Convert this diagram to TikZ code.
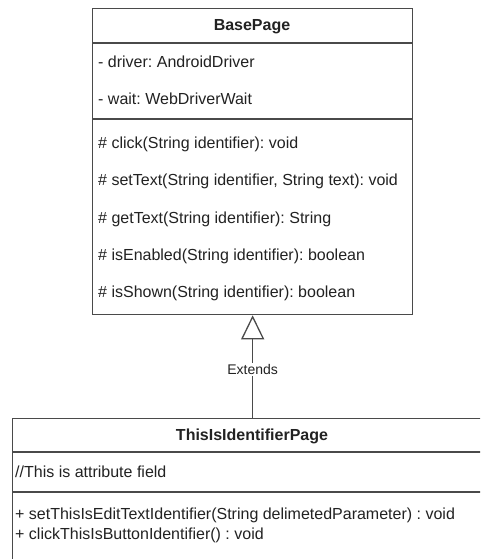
\documentclass[tikz,border=0pt]{standalone}
\usepackage{fontspec}
\setmainfont{Liberation Sans}
\usetikzlibrary{arrows.meta}
\definecolor{linegray}{HTML}{4A4A4A}
\definecolor{ink}{HTML}{222222}
\tikzset{
  classbox/.style={draw=linegray, line width=1.3pt, fill=white, anchor=north west, inner sep=0pt},
  member/.style={anchor=west, inner sep=0pt, text=ink, font=\fontsize{16}{19}\selectfont\frenchspacing},
  title/.style={anchor=center, inner sep=0pt, text=ink, font=\fontsize{16}{19}\selectfont\bfseries},
  divider/.style={draw=linegray, line width=1.3pt},
  inherit/.style={draw=linegray, line width=1.3pt, -{Triangle[open, length=24pt, width=23pt, line width=1.3pt]}},
  edgelabel/.style={fill=white, text=ink, inner sep=1.5pt, font=\fontsize{14}{16}\selectfont}
}
\begin{document}
\begin{tikzpicture}[x=1pt, y=-1pt]
\useasboundingbox (0,0) rectangle (480,559);
\clip (0,0) rectangle (480,559);
\fill[white] (0,0) rectangle (480,559);

% BasePage class
\node[classbox, minimum width=320pt, minimum height=306pt] (base) at (92,8) {};
\coordinate (bh) at (92,43);
\coordinate (ba) at (92,119);
\draw[divider] (bh) -- ++(320,0);
\draw[divider] (ba) -- ++(320,0);
\node[title] (basetitle) at (252,27) {BasePage};
\node[member] (f1) at (98,62) {- driver: AndroidDriver};
\node[member] (f2) at (98,99) {- wait: WebDriverWait};
\node[member] (m1) at (98,144) {\# click(String identifier): void};
\node[member] (m2) at (98,181) {\# setText(String identifier, String text): void};
\node[member] (m3) at (98,219) {\# getText(String identifier): String};
\node[member] (m4) at (98,256) {\# isEnabled(String identifier): boolean};
\node[member] (m5) at (98,293) {\# isShown(String identifier): boolean};

% ThisIsIdentifierPage class
\node[classbox, minimum width=480pt, minimum height=200pt] (page) at (12,418) {};
\coordinate (ph) at (12,452);
\coordinate (pa) at (12,492);
\draw[divider] (ph) -- ++(480,0);
\draw[divider] (pa) -- ++(480,0);
\node[title] (pagetitle) at (252,436) {ThisIsIdentifierPage};
\node[member] (pf1) at (15,472) {//This is attribute field};
\node[member] (pm1) at (15,515) {+ setThisIsEditTextIdentifier(String delimetedParameter) : void};
\node[member] (pm2) at (15,535) {+ clickThisIsButtonIdentifier() : void};

% generalization
\draw[inherit] (page.north -| base.south) -- node[edgelabel, pos=0.47] (ext) {Extends} (base.south);
\end{tikzpicture}
\end{document}
